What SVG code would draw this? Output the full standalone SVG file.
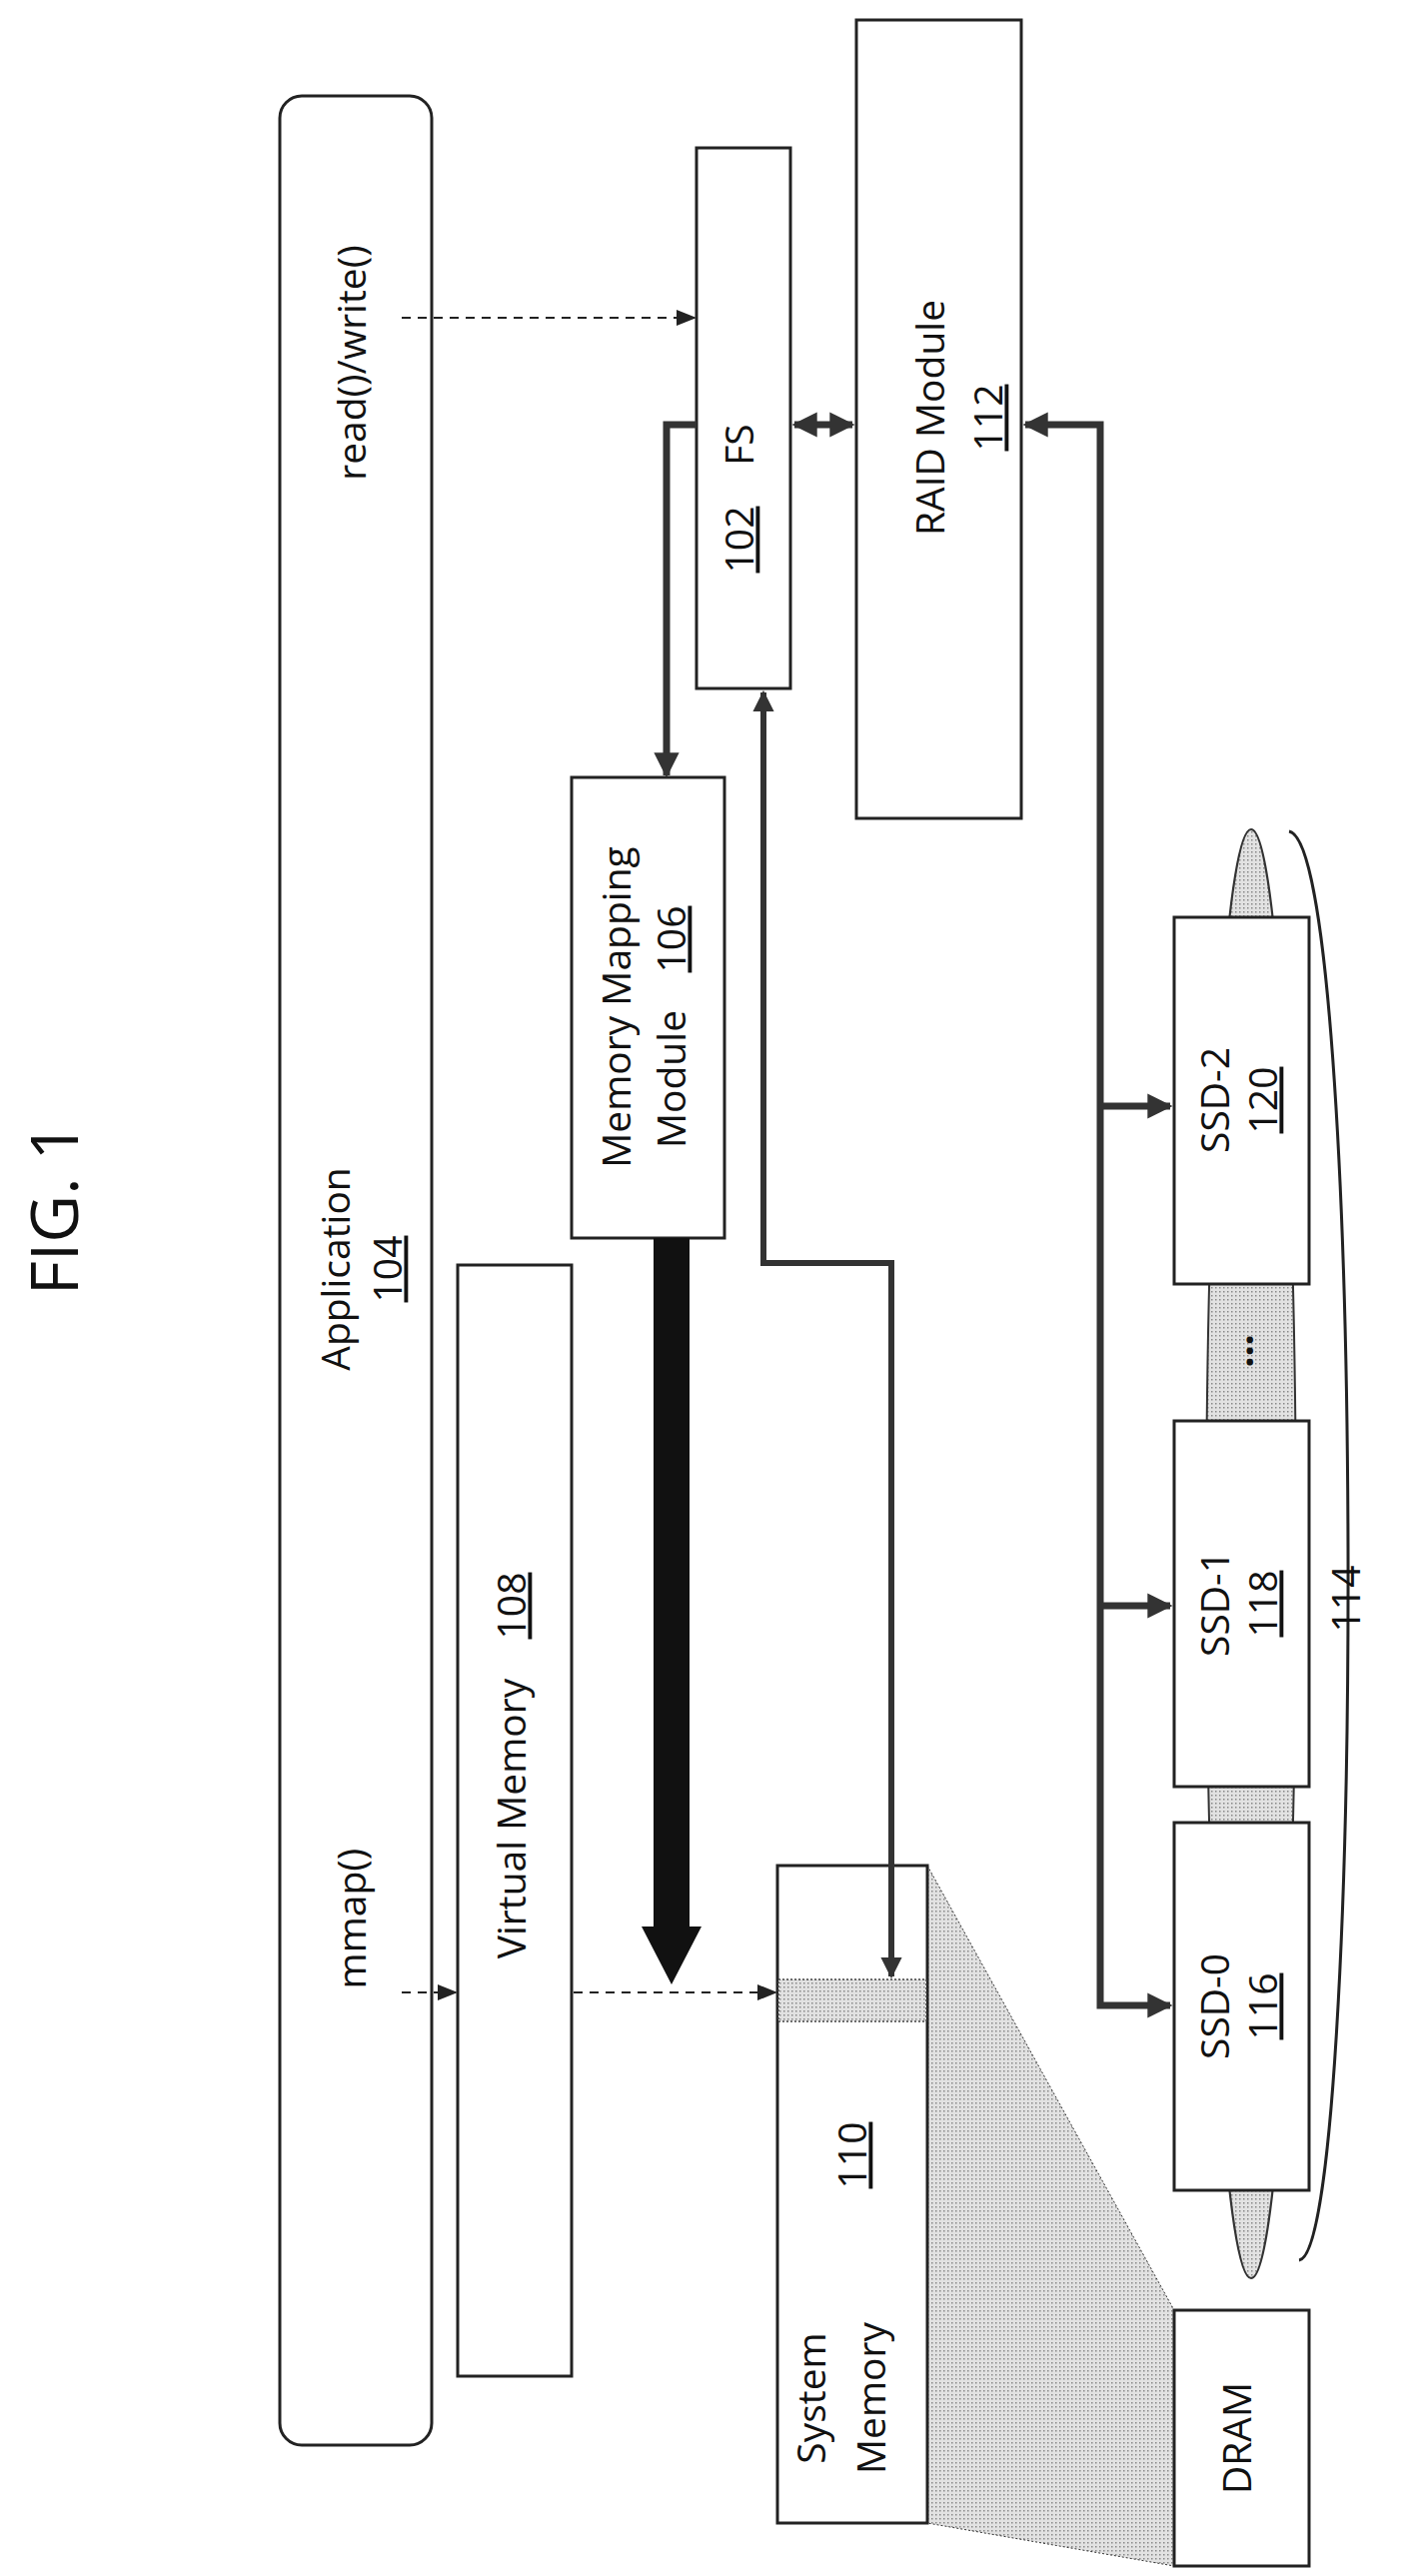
<svg xmlns="http://www.w3.org/2000/svg" width="1417" height="2578" viewBox="0 0 1417 2578">
<style>
text{font-family:"Open Sans","Noto Sans",sans-serif;font-size:39px;fill:#111;text-anchor:middle;dominant-baseline:middle}
.box{fill:#fff;stroke:#222;stroke-width:3}
.u{text-decoration:underline}
.bus{fill:none;stroke:#333;stroke-width:7}
.dash{fill:none;stroke:#222;stroke-width:2;stroke-dasharray:9 7}
</style>
<defs>
<pattern id="dots" width="4" height="4" patternUnits="userSpaceOnUse"><rect width="4" height="4" fill="#e2e2e2"/><rect width="1.5" height="1.5" fill="#888"/></pattern>
<marker id="ah" viewBox="0 0 10 10" refX="9" refY="5" markerWidth="3.6" markerHeight="3.6" orient="auto-start-reverse"><path d="M0,0L10,5L0,10z" fill="#333"/></marker>
<marker id="da" viewBox="0 0 10 10" refX="9" refY="5" markerWidth="10" markerHeight="10" orient="auto"><path d="M0,1L10,5L0,9z" fill="#222"/></marker>
</defs>
<text transform="rotate(-90 60 1210)" x="60" y="1210" style="font-size:66px">FIG. 1</text>

<g id="storage114">
<ellipse cx="1252" cy="1555" rx="45" ry="725" fill="url(#dots)" stroke="#333" stroke-width="2"/>
<path d="M1290,832 C1368,845 1366,2255 1300,2262" fill="none" stroke="#222" stroke-width="3"/>
<text transform="rotate(-90 1351 1600)" x="1351" y="1600">114</text>
<text transform="rotate(-90 1244 1352)" x="1244" y="1352" style="font-weight:bold">...</text>
</g>

<g id="app104">
<rect class="box" x="280" y="96" width="152" height="2351" rx="22"/>
<text transform="rotate(-90 340 1270)" x="340" y="1270">Application</text>
<text class="u" transform="rotate(-90 392 1270)" x="392" y="1270">104</text>
<text transform="rotate(-90 356 363)" x="356" y="363">read()/write()</text>
<text transform="rotate(-90 356 1920)" x="356" y="1920">mmap()</text>
</g>
<g id="fs102">
<rect class="box" x="697" y="148" width="94" height="541"/>
<text transform="rotate(-90 744 445)" x="744" y="445">FS</text>
<text class="u" transform="rotate(-90 744 540)" x="744" y="540">102</text>
</g>
<g id="raid112">
<rect class="box" x="857" y="20" width="165" height="799"/>
<text transform="rotate(-90 935 418)" x="935" y="418">RAID Module</text>
<text class="u" transform="rotate(-90 993 418)" x="993" y="418">112</text>
</g>
<g id="mmm106">
<rect class="box" x="572" y="778" width="153" height="461"/>
<text transform="rotate(-90 621 1008)" x="621" y="1008">Memory Mapping</text>
<text transform="rotate(-90 676 1080)" x="676" y="1080">Module</text>
<text class="u" transform="rotate(-90 676 940)" x="676" y="940">106</text>
</g>
<g id="vm108">
<rect class="box" x="458" y="1266" width="114" height="1112"/>
<text transform="rotate(-90 516 1820)" x="516" y="1820">Virtual Memory</text>
<text class="u" transform="rotate(-90 516 1607)" x="516" y="1607">108</text>
</g>
<g id="dram">
<polygon points="928,1867 1175,2312 1175,2568 928,2525" fill="url(#dots)" stroke="#333" stroke-width="1" stroke-dasharray="2 2"/>
<rect class="box" x="1175" y="2312" width="135" height="256"/>
<text transform="rotate(-90 1242 2440)" x="1242" y="2440">DRAM</text>
</g>
<g id="sysmem110">
<rect class="box" x="778" y="1867" width="150" height="658"/>
<rect x="779" y="1981" width="148" height="42" fill="url(#dots)" stroke="#444" stroke-width="1.5" stroke-dasharray="2 2"/>
<text class="u" transform="rotate(-90 857 2157)" x="857" y="2157">110</text>
<text transform="rotate(-90 816 2400)" x="816" y="2400">System</text>
<text transform="rotate(-90 876 2400)" x="876" y="2400">Memory</text>
</g>
<g id="ssd120">
<rect class="box" x="1175" y="918" width="135" height="367"/>
<text transform="rotate(-90 1220 1101)" x="1220" y="1101">SSD-2</text>
<text class="u" transform="rotate(-90 1268 1101)" x="1268" y="1101">120</text>
</g>
<g id="ssd118">
<rect class="box" x="1175" y="1422" width="135" height="366"/>
<text transform="rotate(-90 1220 1605)" x="1220" y="1605">SSD-1</text>
<text class="u" transform="rotate(-90 1268 1605)" x="1268" y="1605">118</text>
</g>
<g id="ssd116">
<rect class="box" x="1175" y="1824" width="135" height="368"/>
<text transform="rotate(-90 1220 2008)" x="1220" y="2008">SSD-0</text>
<text class="u" transform="rotate(-90 1268 2008)" x="1268" y="2008">116</text>
</g>

<g id="connectors">
<line class="dash" x1="402" y1="318" x2="695" y2="318" marker-end="url(#da)"/>
<line class="dash" x1="402" y1="1994" x2="456" y2="1994" marker-end="url(#da)"/>
<line class="dash" x1="574" y1="1994" x2="776" y2="1994" marker-end="url(#da)"/>
<path class="bus" d="M697,425 H667 V776" marker-end="url(#ah)"/>
<line class="bus" x1="795" y1="425" x2="853" y2="425" marker-start="url(#ah)" marker-end="url(#ah)"/>
<path class="bus" style="stroke-width:6" d="M764,693 V1264 H892 V1978" marker-start="url(#ah)" marker-end="url(#ah)"/>
<path class="bus" d="M1026,425 H1101 V2007 H1171" marker-start="url(#ah)" marker-end="url(#ah)"/>
<path class="bus" d="M1101,1107 H1171" marker-end="url(#ah)"/>
<path class="bus" d="M1101,1607 H1171" marker-end="url(#ah)"/>
<path d="M654,1239 H690 V1928 H702 L672,1986 L642,1928 H654 Z" fill="#111"/>
</g>
</svg>
